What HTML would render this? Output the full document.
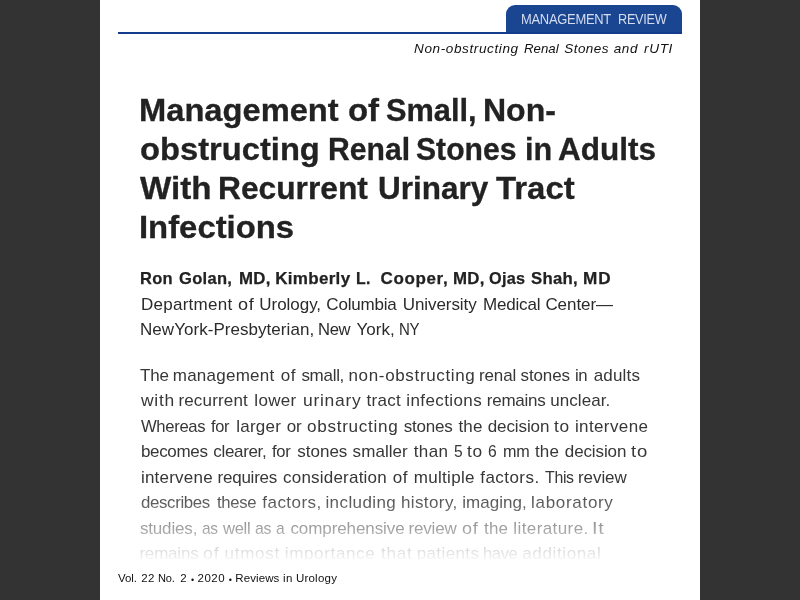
<!DOCTYPE html>
<html lang="en">
<head>
<meta charset="utf-8">
<title>Management of Small, Non-obstructing Renal Stones in Adults With Recurrent Urinary Tract Infections</title>
<style>
html,body{margin:0;padding:0;}
body{width:800px;height:600px;overflow:hidden;background:#333333;font-family:"Liberation Sans",sans-serif;position:relative;}
.page{position:absolute;left:100px;top:0;width:600px;height:600px;background:#fff;overflow:hidden;}
.rule{position:absolute;left:18px;top:32px;width:564px;height:2px;background:#143c8c;z-index:2;}
.tab{position:absolute;left:406px;top:5px;width:176px;height:29px;background:#1a4590;border-radius:9px 9px 0 0;}
h1{margin:0;padding:0;font-size:inherit;font-weight:inherit;}
.l{position:absolute;left:0;width:600px;white-space:nowrap;}
.w{position:absolute;top:0;left:0;transform-origin:0 50%;}
.t{font-size:14px;line-height:20px;height:20px;color:#d3dcf0;}
.r{font-size:13.5px;line-height:18px;height:18px;font-style:italic;color:#111;}
.h{font-weight:bold;font-size:31px;line-height:39px;height:39px;color:#222;-webkit-text-stroke:0.3px #222;}
.a{font-weight:bold;font-size:17px;line-height:26px;height:26px;color:#222;-webkit-text-stroke:0.25px #222;}
.d{font-size:17px;line-height:26px;height:26px;color:#2b2b2b;}
.p{font-size:17px;line-height:26px;height:26px;color:#373737;}
.f{font-size:11.5px;line-height:16px;height:16px;color:#111;}
.f .b{font-size:9px;top:2.2px;}
.fade{position:absolute;left:0;top:489px;width:600px;height:74px;background:linear-gradient(to bottom,rgba(255,255,255,0),rgba(255,255,255,1));}
.footbg{position:absolute;left:0;top:560px;width:600px;height:40px;background:#fff;}
</style>
</head>
<body>
<div class="page">
  <div class="rule"></div>
  <div class="tab"></div>
  <div class="l t" style="top:9.00px"><span class="w" style="left:421.08px;letter-spacing:-0.300px;transform:scaleX(0.9244)">MANAGEMENT</span> <span class="w" style="left:517.59px;letter-spacing:-0.300px;transform:scaleX(0.9063)">REVIEW</span></div>
  <div class="l r" style="top:40.20px"><span class="w" style="left:313.75px;letter-spacing:0.600px;transform:scaleX(1.0039)">Non-obstructing</span> <span class="w" style="left:423.75px;transform:scaleX(0.9814)">Renal</span> <span class="w" style="left:464.36px;letter-spacing:0.409px">Stones</span> <span class="w" style="left:513.80px;letter-spacing:0.542px">and</span> <span class="w" style="left:543.65px;letter-spacing:0.600px;transform:scaleX(1.0127)">rUTI</span></div>
  <h1>
  <span class="l h" style="top:91.00px"><span class="w" style="left:39.39px;transform:scaleX(1.0539)">Management</span> <span class="w" style="left:247.69px;transform:scaleX(1.0627)">of</span> <span class="w" style="left:286.00px;transform:scaleX(0.9922)">Small,</span> <span class="w" style="left:382.68px;transform:scaleX(1.0328)">Non-</span></span>
  <span class="l h" style="top:130.00px"><span class="w" style="left:40.20px;transform:scaleX(1.0549)">obstructing</span> <span class="w" style="left:227.56px;transform:scaleX(0.9715)">Renal</span> <span class="w" style="left:316.12px;transform:scaleX(0.9720)">Stones</span> <span class="w" style="left:425.03px;transform:scaleX(0.9853)">in</span> <span class="w" style="left:458.12px;transform:scaleX(1.0176)">Adults</span></span>
  <span class="l h" style="top:169.00px"><span class="w" style="left:40.00px;transform:scaleX(1.0694)">With</span> <span class="w" style="left:118.45px;transform:scaleX(1.0235)">Recurrent</span> <span class="w" style="left:277.73px;transform:scaleX(1.0157)">Urinary</span> <span class="w" style="left:396.25px;transform:scaleX(1.0621)">Tract</span></span>
  <span class="l h" style="top:208.00px"><span class="w" style="left:39.23px;transform:scaleX(1.0593)">Infections</span></span>
  </h1>
  <div class="l a" style="top:265.60px"><span class="w" style="left:40.28px;letter-spacing:0.300px;transform:scaleX(0.9687)">Ron</span> <span class="w" style="left:78.75px;letter-spacing:0.300px;transform:scaleX(0.9717)">Golan,</span> <span class="w" style="left:138.71px;letter-spacing:0.300px;transform:scaleX(0.9887)">MD,</span> <span class="w" style="left:175.25px;letter-spacing:0.300px">Kimberly</span> <span class="w" style="left:256.26px;letter-spacing:0.300px;transform:scaleX(0.9354)">L.</span> <span class="w" style="left:280.50px;letter-spacing:0.640px">Cooper,</span> <span class="w" style="left:353.01px;letter-spacing:0.300px;transform:scaleX(0.9904)">MD,</span> <span class="w" style="left:389.30px;letter-spacing:0.300px;transform:scaleX(0.9544)">Ojas</span> <span class="w" style="left:431.10px;letter-spacing:0.300px;transform:scaleX(0.9837)">Shah,</span> <span class="w" style="left:482.59px;letter-spacing:0.900px;transform:scaleX(1.0092)">MD</span></div>
  <div class="l d" style="top:291.60px"><span class="w" style="left:40.90px;letter-spacing:0.278px">Department</span> <span class="w" style="left:138.25px;letter-spacing:0.700px;transform:scaleX(1.0624)">of</span> <span class="w" style="left:159.25px;letter-spacing:-0.031px">Urology,</span> <span class="w" style="left:226.37px;letter-spacing:-0.199px">Columbia</span> <span class="w" style="left:302.75px;letter-spacing:-0.075px">University</span> <span class="w" style="left:383.00px;letter-spacing:-0.184px">Medical</span> <span class="w" style="left:445.38px;letter-spacing:-0.046px">Center—</span></div>
  <div class="l d" style="top:316.60px"><span class="w" style="left:40.00px;letter-spacing:0.045px">NewYork-Presbyterian,</span> <span class="w" style="left:217.71px;letter-spacing:-0.350px;transform:scaleX(0.9771)">New</span> <span class="w" style="left:256.47px;letter-spacing:0.039px">York,</span> <span class="w" style="left:298.52px;letter-spacing:-0.350px;transform:scaleX(0.8848)">NY</span></div>
  <div class="l p" style="top:362.60px"><span class="w" style="left:39.92px;letter-spacing:-0.094px">The</span> <span class="w" style="left:72.75px;letter-spacing:0.250px">management</span> <span class="w" style="left:180.75px;letter-spacing:0.545px">of</span> <span class="w" style="left:201.38px;letter-spacing:-0.284px">small,</span> <span class="w" style="left:248.50px;letter-spacing:0.653px">non-obstructing</span> <span class="w" style="left:379.00px;letter-spacing:-0.131px">renal</span> <span class="w" style="left:420.62px;letter-spacing:-0.142px">stones</span> <span class="w" style="left:475.27px;letter-spacing:-0.350px;transform:scaleX(0.9845)">in</span> <span class="w" style="left:493.75px;letter-spacing:0.157px">adults</span></div>
  <div class="l p" style="top:387.60px"><span class="w" style="left:41.00px;letter-spacing:0.700px;transform:scaleX(1.0266)">with</span> <span class="w" style="left:78.40px;letter-spacing:0.175px">recurrent</span> <span class="w" style="left:154.30px;letter-spacing:0.334px">lower</span> <span class="w" style="left:202.51px;letter-spacing:0.700px;transform:scaleX(1.0290)">urinary</span> <span class="w" style="left:266.40px;letter-spacing:0.315px">tract</span> <span class="w" style="left:306.20px;letter-spacing:0.415px">infections</span> <span class="w" style="left:386.80px;letter-spacing:-0.244px">remains</span> <span class="w" style="left:450.23px;letter-spacing:0.062px">unclear.</span></div>
  <div class="l p" style="top:413.60px"><span class="w" style="left:41.25px;letter-spacing:-0.350px;transform:scaleX(0.9790)">Whereas</span> <span class="w" style="left:110.90px;letter-spacing:-0.350px;transform:scaleX(0.9652)">for</span> <span class="w" style="left:136.15px;letter-spacing:0.260px">larger</span> <span class="w" style="left:186.85px;letter-spacing:-0.350px">or</span> <span class="w" style="left:207.30px;letter-spacing:0.700px;transform:scaleX(1.0056)">obstructing</span> <span class="w" style="left:303.75px;letter-spacing:-0.227px">stones</span> <span class="w" style="left:358.40px;letter-spacing:0.161px">the</span> <span class="w" style="left:387.67px;letter-spacing:-0.087px">decision</span> <span class="w" style="left:454.10px;letter-spacing:0.700px;transform:scaleX(1.0157)">to</span> <span class="w" style="left:474.90px;letter-spacing:0.390px">intervene</span></div>
  <div class="l p" style="top:438.60px"><span class="w" style="left:40.90px;letter-spacing:-0.313px">becomes</span> <span class="w" style="left:113.35px;letter-spacing:-0.345px">clearer,</span> <span class="w" style="left:171.60px;letter-spacing:-0.350px;transform:scaleX(0.9755)">for</span> <span class="w" style="left:197.22px;letter-spacing:0.013px">stones</span> <span class="w" style="left:252.62px;letter-spacing:0.064px">smaller</span> <span class="w" style="left:313.75px;letter-spacing:0.373px">than</span> <span class="w" style="left:353.86px;transform:scaleX(0.9200)">5</span> <span class="w" style="left:366.90px;letter-spacing:0.700px;transform:scaleX(1.0192)">to</span> <span class="w" style="left:388.12px;transform:scaleX(0.9200)">6</span> <span class="w" style="left:402.55px;letter-spacing:-0.350px;transform:scaleX(0.9511)">mm</span> <span class="w" style="left:435.00px;letter-spacing:0.111px">the</span> <span class="w" style="left:464.79px;letter-spacing:-0.106px">decision</span> <span class="w" style="left:531.25px;letter-spacing:0.700px;transform:scaleX(1.0885)">to</span></div>
  <div class="l p" style="top:464.60px"><span class="w" style="left:40.90px;letter-spacing:0.228px">intervene</span> <span class="w" style="left:117.54px;letter-spacing:-0.235px">requires</span> <span class="w" style="left:183.02px;letter-spacing:0.215px">consideration</span> <span class="w" style="left:292.80px;letter-spacing:0.545px">of</span> <span class="w" style="left:313.70px;letter-spacing:0.311px">multiple</span> <span class="w" style="left:380.30px;letter-spacing:0.440px">factors.</span> <span class="w" style="left:444.75px;letter-spacing:-0.350px;transform:scaleX(0.9357)">This</span> <span class="w" style="left:478.00px;letter-spacing:-0.069px">review</span></div>
  <div class="l p" style="top:489.60px"><span class="w" style="left:41.25px;letter-spacing:-0.350px;transform:scaleX(0.9898)">describes</span> <span class="w" style="left:116.90px;letter-spacing:-0.350px;transform:scaleX(0.9816)">these</span> <span class="w" style="left:162.30px;letter-spacing:0.455px">factors,</span> <span class="w" style="left:225.44px;letter-spacing:0.403px">including</span> <span class="w" style="left:300.90px;letter-spacing:0.413px">history,</span> <span class="w" style="left:362.15px;letter-spacing:0.038px">imaging,</span> <span class="w" style="left:431.12px;letter-spacing:0.684px">laboratory</span></div>
  <div class="l p" style="top:515.60px"><span class="w" style="left:39.90px;letter-spacing:-0.151px">studies,</span> <span class="w" style="left:101.77px;letter-spacing:-0.350px;transform:scaleX(0.9091)">as</span> <span class="w" style="left:123.18px;letter-spacing:-0.350px;transform:scaleX(0.9769)">well</span> <span class="w" style="left:155.34px;letter-spacing:-0.350px;transform:scaleX(0.9369)">as</span> <span class="w" style="left:175.85px;transform:scaleX(0.9200)">a</span> <span class="w" style="left:190.44px;letter-spacing:-0.088px">comprehensive</span> <span class="w" style="left:308.43px;letter-spacing:-0.160px">review</span> <span class="w" style="left:362.14px;letter-spacing:0.700px;transform:scaleX(1.0569)">of</span> <span class="w" style="left:384.00px;letter-spacing:0.161px">the</span> <span class="w" style="left:413.30px;letter-spacing:0.406px">literature.</span> <span class="w" style="left:491.77px;letter-spacing:0.700px;transform:scaleX(1.1700)">It</span></div>
  <div class="l p" style="top:540.60px"><span class="w" style="left:39.42px;letter-spacing:-0.193px">remains</span> <span class="w" style="left:103.29px;letter-spacing:0.700px;transform:scaleX(1.0569)">of</span> <span class="w" style="left:124.60px;letter-spacing:0.700px">utmost</span> <span class="w" style="left:184.75px;letter-spacing:0.651px">importance</span> <span class="w" style="left:280.60px;letter-spacing:0.700px;transform:scaleX(1.0087)">that</span> <span class="w" style="left:316.65px;letter-spacing:0.394px">patients</span> <span class="w" style="left:382.73px;letter-spacing:-0.350px;transform:scaleX(0.9692)">have</span> <span class="w" style="left:422.30px;letter-spacing:0.622px">additional</span></div>
  <div class="fade"></div>
  <div class="footbg"></div>
  <div class="l f" style="top:569.70px"><span class="w" style="left:18.00px;letter-spacing:-0.079px">Vol.</span> <span class="w" style="left:41.25px;letter-spacing:0.354px">22</span> <span class="w" style="left:57.75px;letter-spacing:-0.200px;transform:scaleX(0.9609)">No.</span> <span class="w" style="left:80.25px">2</span> <span class="w b" style="left:90.97px">•</span> <span class="w" style="left:97.50px;letter-spacing:0.500px">2020</span> <span class="w b" style="left:128.65px">•</span> <span class="w" style="left:135.25px;letter-spacing:0.099px">Reviews</span> <span class="w" style="left:183.06px;letter-spacing:0.320px">in</span> <span class="w" style="left:195.88px;letter-spacing:0.229px">Urology</span></div>
</div>
</body>
</html>
